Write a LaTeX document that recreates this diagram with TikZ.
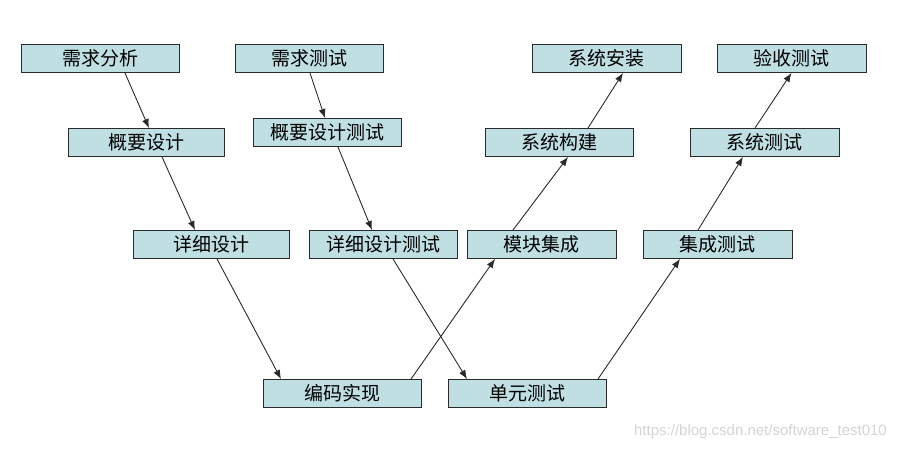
\documentclass[tikz,border=0pt]{standalone}
\usepackage{fontspec}
\setmainfont{Noto Sans CJK SC}
\newfontfamily\markfont{Liberation Sans}
\usepackage{xcolor}
\usepackage{tikz}
\usetikzlibrary{arrows.meta,positioning,calc}

\definecolor{boxfill}{HTML}{BFDFE3}
\definecolor{boxline}{HTML}{2A2A2A}
\definecolor{arrowline}{HTML}{2A2A2A}
\definecolor{markgray}{HTML}{D4D4D4}

\begin{document}
\begin{tikzpicture}[
    x=1pt, y=-1pt,
    >={Latex[length=9pt,width=7pt]},
    stage/.style={rectangle, draw=boxline, line width=0.9pt, fill=boxfill, inner sep=0pt, minimum height=28pt, text width=#1, align=center, font=\fontsize{19}{21}\selectfont},
    stage/.default=149pt,
    flow/.style={->, draw=arrowline, line width=0.9pt}
]

\useasboundingbox (0,0) rectangle (897,450);

% Left branch: development
\node [stage=158pt] (xqfx) at (100,58.5) {需求分析};
\node [stage=156pt] (gysj) at (146,142.5) {概要设计};
\node [stage=156pt] (xxsj) at (211,244.5) {详细设计};
\node [stage=158pt] (bmsx) at (342,393.5) {编码实现};

% Left branch: testing
\node [stage=148pt] (xqcs) at (309,58.5) {需求测试};
\node [stage=148pt] (gycs) at (327,132.5) {概要设计测试};
\node [stage=148pt] (xxcs) at (383.5,244.5) {详细设计测试};
\node [stage=158pt] (dycs) at (527,393.5) {单元测试};

% Right branch: integration
\node [stage] (mkjc) at (541.5,244.5) {模块集成};
\node [stage=148pt] (xtgj) at (559,142.5) {系统构建};
\node [stage] (xtaz) at (606.5,58.5) {系统安装};

% Right branch: test levels
\node [stage] (jccs) at (717.5,244.5) {集成测试};
\node [stage] (xtcs) at (764.5,142.5) {系统测试};
\node [stage] (yscs) at (791.5,58.5) {验收测试};

% Watermark
\node [anchor=east, inner sep=0pt, text=markgray, font=\markfont\fontsize{15}{17}\selectfont] (mark) at (887,432) {https://blog.csdn.net/software\_test010};

% Connections
\draw [flow] ([xshift=25pt]xqfx.south) -- ([xshift=3pt]gysj.north);
\draw [flow] ([xshift=16pt]gysj.south) -- ([xshift=-16pt]xxsj.north);
\draw [flow] ([xshift=6pt]xxsj.south) -- ([xshift=-61pt]bmsx.north);
\draw [flow] ([xshift=1pt]xqcs.south) -- ([xshift=-2pt]gycs.north);
\draw [flow] ([xshift=11pt]gycs.south) -- ([xshift=-11.5pt]xxcs.north);
\draw [flow] ([xshift=9.5pt]xxcs.south) -- ([xshift=-60pt]dycs.north);
\draw [flow] ([xshift=69pt]bmsx.north) -- ([xshift=-46.5pt]mkjc.south);
\draw [flow] ([xshift=-28.5pt]mkjc.north) -- ([xshift=9pt]xtgj.south);
\draw [flow] ([xshift=29pt]xtgj.north) -- ([xshift=16.5pt]xtaz.south);
\draw [flow] ([xshift=71pt]dycs.north) -- ([xshift=-37.5pt]jccs.south);
\draw [flow] ([xshift=-19.5pt]jccs.north) -- ([xshift=-21.5pt]xtcs.south);
\draw [flow] ([xshift=-9.5pt]xtcs.north) -- ([xshift=0pt]yscs.south);

\end{tikzpicture}
\end{document}
